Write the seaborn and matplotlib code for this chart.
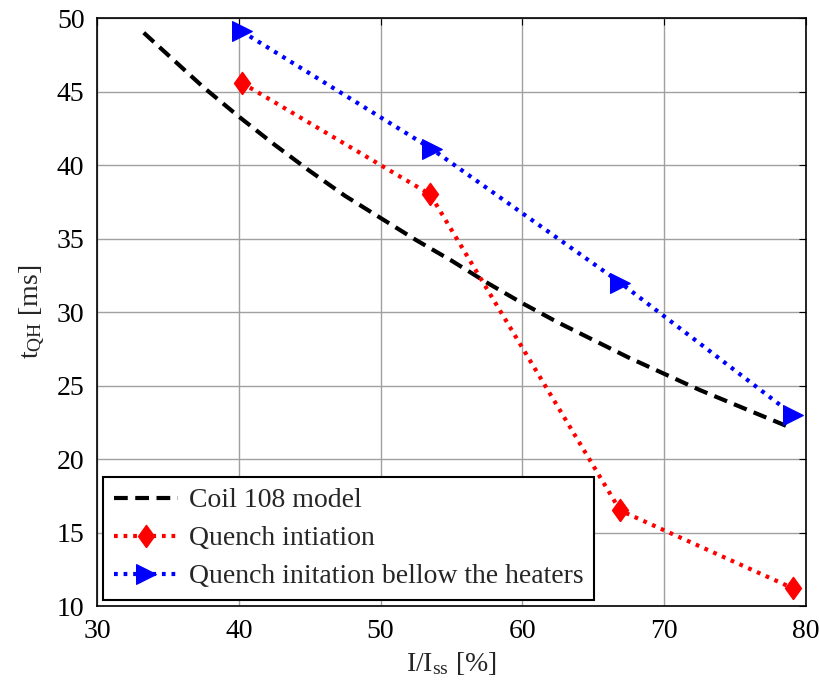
import matplotlib
matplotlib.use("Agg")
import matplotlib.pyplot as plt
import seaborn as sns
import pandas as pd

model_x = [33.3, 35.0, 37.5, 40.0, 42.5, 45.0, 47.5, 50.0, 52.5, 55.0, 57.5, 60.0,
           62.5, 65.0, 67.5, 70.0, 72.5, 75.0, 77.5, 79.0]
model_y = [49.0, 47.5, 45.3, 43.3, 41.4, 39.6, 37.9, 36.4, 34.9, 33.5, 32.0, 30.6,
           29.3, 28.1, 26.9, 25.8, 24.7, 23.7, 22.7, 22.1]

quench_x = [40.2, 53.5, 66.9, 79.1]
quench_y = [45.6, 38.0, 16.5, 11.2]

below_x = [40.2, 53.6, 66.9, 79.1]
below_y = [49.1, 41.1, 32.0, 23.0]

labels = ["Coil 108 model", "Quench intiation", "Quench initation bellow the heaters"]

sns.set_style("white")
plt.rcParams['font.family'] = ['Liberation Serif', 'DejaVu Serif']
plt.rcParams['mathtext.fontset'] = 'custom'
plt.rcParams['mathtext.rm'] = 'Liberation Serif'
plt.rcParams['mathtext.it'] = 'Liberation Serif'

fig = plt.figure(figsize=(8.19, 6.94), dpi=100)
ax = fig.add_axes([0.1184, 0.1268, 0.8656, 0.8472])

df_m = pd.DataFrame({"x": model_x, "y": model_y})
df_q = pd.DataFrame({"x": quench_x, "y": quench_y})
df_b = pd.DataFrame({"x": below_x, "y": below_y})

diamond = [(0, -1), (0.72, 0), (0, 1), (-0.72, 0), (0, -1)]

sns.lineplot(data=df_m, x="x", y="y", ax=ax, color="black", linestyle=(0, (3.3, 1.8)),
             linewidth=3, sort=False, estimator=None, label=labels[0])
sns.lineplot(data=df_q, x="x", y="y", ax=ax, color="red", linestyle=(0, (0.9, 1.4)),
             linewidth=3, marker=diamond, markersize=16, markeredgecolor="red",
             markeredgewidth=1, sort=False, estimator=None, label=labels[1])
sns.lineplot(data=df_b, x="x", y="y", ax=ax, color="blue", linestyle=(0, (0.9, 1.4)),
             linewidth=3, marker=">", markersize=15, markeredgecolor="blue",
             sort=False, estimator=None, label=labels[2])

ax.set_xlim(30, 80)
ax.set_ylim(10, 50)
ax.set_xticks(range(30, 81, 10))
ax.set_yticks(range(10, 51, 5))
ax.grid(True, color="#a0a0a0", linewidth=1.0)
for s in ax.spines.values():
    s.set_color("black")
    s.set_linewidth(1.2)
ax.tick_params(direction="in", top=True, right=True, length=5, labelsize=20, colors="black", pad=9)

ax.set_xlabel(r"$\mathregular{I/I_{ss}}$ [%]", fontsize=20, labelpad=5)
ax.set_ylabel(r"$\mathregular{t_{QH}}$ [ms]", fontsize=20, labelpad=6)

leg = ax.legend(loc="lower left", fontsize=20, frameon=True, fancybox=False,
                edgecolor="black", framealpha=1, borderaxespad=0.2,
                handlelength=2.3, labelspacing=0.45, borderpad=0.4, handletextpad=0.4)
leg.get_frame().set_linewidth(1.5)

fig.savefig("out.png", dpi=100)
